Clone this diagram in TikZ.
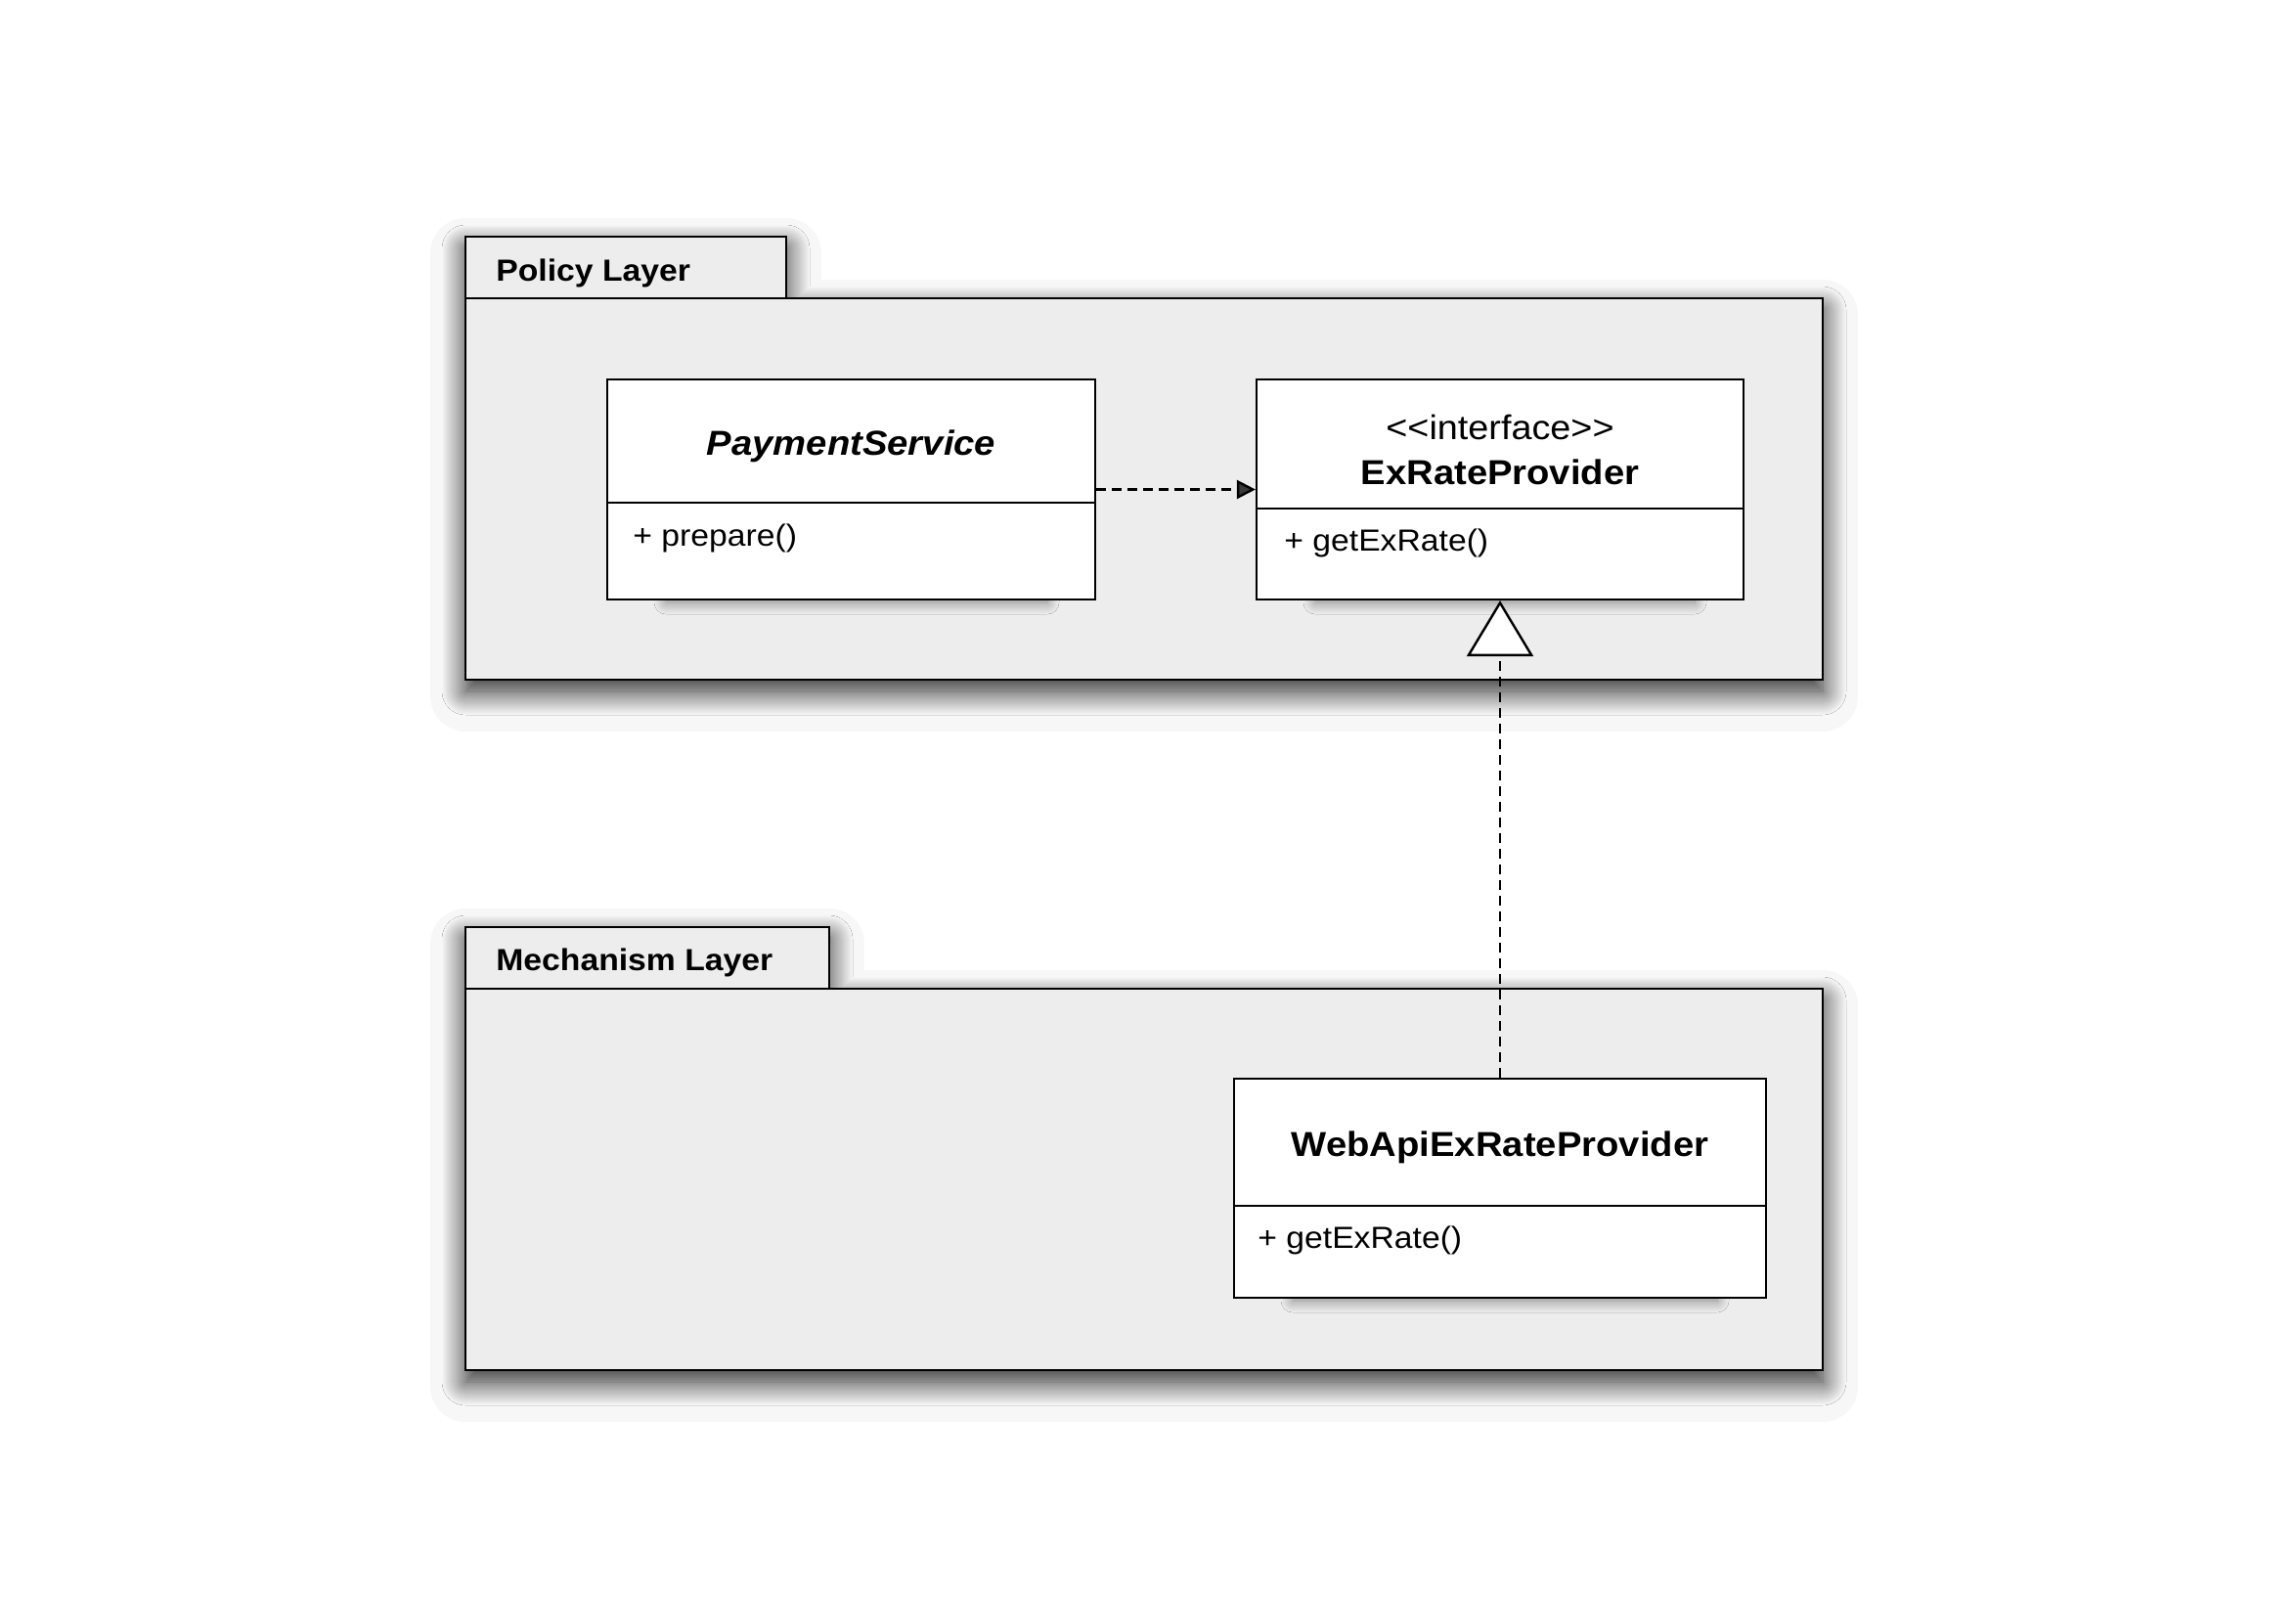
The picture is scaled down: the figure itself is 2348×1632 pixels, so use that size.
\documentclass[tikz,border=0pt]{standalone}
\usepackage{fontspec}
\setmainfont{Liberation Sans}[FakeStretch=1.08]
\usetikzlibrary{arrows.meta,shadows.blur}
\definecolor{pkgfill}{HTML}{EDEDED}
\definecolor{halocol}{HTML}{F7F7F7}
\begin{document}
\begin{tikzpicture}[x=0.5pt,y=-0.5pt,
  halo/.style={fill=halocol, draw=halocol, line width=36pt, line join=round},
  pkgshape/.style={fill=pkgfill, blur shadow={shadow xshift=0pt, shadow yshift=-6pt, shadow blur radius=12pt, shadow blur steps=24, shadow opacity=85}},
  pkgbox/.style={draw, line width=1.4pt, rectangle, inner sep=0pt},
  pkglabel/.style={inner sep=0pt, font=\fontsize{15.6}{18}\selectfont\bfseries},
  clsshadow/.style={fill=white, blur shadow={shadow xshift=0pt, shadow yshift=-5pt, shadow blur radius=6pt, shadow blur steps=16, shadow opacity=45}},
  classbox/.style={draw, line width=1.1pt, fill=white, rectangle, inner sep=0pt},
  clsname/.style={inner sep=0pt, font=\fontsize{17.7}{20}\selectfont\bfseries},
  member/.style={inner sep=0pt, font=\fontsize{15.6}{18}\selectfont},
  dep/.style={line width=1.2pt, dash pattern=on 5pt off 3pt, -{Triangle[length=9.5pt,width=9.5pt]}},
  realize/.style={line width=1.2pt, dash pattern=on 5pt off 3pt, -{Triangle[length=28.5pt,width=34pt,fill=white]}}
]
\useasboundingbox (0,0) rectangle (2348,1632);

% ---------- halos ----------
\path[halo, shift={(0,17)}] (476,242) -- (804,242) -- (804,305) -- (1864,305) -- (1864,695) -- (476,695) -- cycle;
\path[halo, shift={(0,17)}] (476,948) -- (848,948) -- (848,1011) -- (1864,1011) -- (1864,1401) -- (476,1401) -- cycle;

% ---------- package fills with shadow ----------
\path[pkgshape] (476,242) -- (804,242) -- (804,305) -- (1864,305) -- (1864,695) -- (476,695) -- cycle;
\path[pkgshape] (476,948) -- (848,948) -- (848,1011) -- (1864,1011) -- (1864,1401) -- (476,1401) -- cycle;

% ---------- package outlines ----------
\node[pkgbox, minimum width=164pt, minimum height=31.5pt] (poltab) at (640,273.5) {};
\node[pkgbox, minimum width=694pt, minimum height=195pt] (polbody) at (1170,500) {};
\node[pkgbox, minimum width=186pt, minimum height=31.5pt] (mechtab) at (662,979.5) {};
\node[pkgbox, minimum width=694pt, minimum height=195pt] (mechbody) at (1170,1206) {};

\node[pkglabel, anchor=base west] (pollabel) at (507,287) {Policy Layer};
\node[pkglabel, anchor=base west] (mechlabel) at (507,992) {Mechanism Layer};

% ---------- class shadows ----------
\path[clsshadow] (681,420) rectangle (1071,606);
\path[clsshadow] (1345,420) rectangle (1733,606);
\path[clsshadow] (1322,1135) rectangle (1756,1320);

% ---------- classes ----------
\node[classbox, minimum width=249.5pt, minimum height=112.5pt] (ps) at (870.5,500.5) {};
\node[classbox, minimum width=249pt, minimum height=112.5pt] (iface) at (1534,500.5) {};
\node[classbox, minimum width=272pt, minimum height=112pt] (web) at (1534,1215) {};

\coordinate (d1) at (0,514);
\coordinate (d2) at (0,520);
\coordinate (d3) at (0,1233);
\draw[line width=1.1pt] (ps.west |- d1) -- (ps.east |- d1);
\draw[line width=1.1pt] (iface.west |- d2) -- (iface.east |- d2);
\draw[line width=1.1pt] (web.west |- d3) -- (web.east |- d3);

\node[clsname, anchor=base, font=\fontsize{17.7}{20}\selectfont\bfseries\itshape] (psname) at (870.5,465) {PaymentService};
\node[member, anchor=base west] (psop) at (647,558) {+ prepare()};

\node[member, anchor=base, font=\fontsize{17.5}{20}\selectfont] (ifster) at (1534,449) {<{}<interface>{}>};
\node[clsname, anchor=base] (ifname) at (1534,495) {ExRateProvider};
\node[member, anchor=base west] (ifop) at (1313,563) {+ getExRate()};

\node[clsname, anchor=base] (webname) at (1534,1182) {WebApiExRateProvider};
\node[member, anchor=base west] (webop) at (1286,1276) {+ getExRate()};

% ---------- connectors ----------
\draw[dep] (ps.east) -- (iface.west);
\draw[realize] (web.north) -- (iface.south);
\end{tikzpicture}
\end{document}
